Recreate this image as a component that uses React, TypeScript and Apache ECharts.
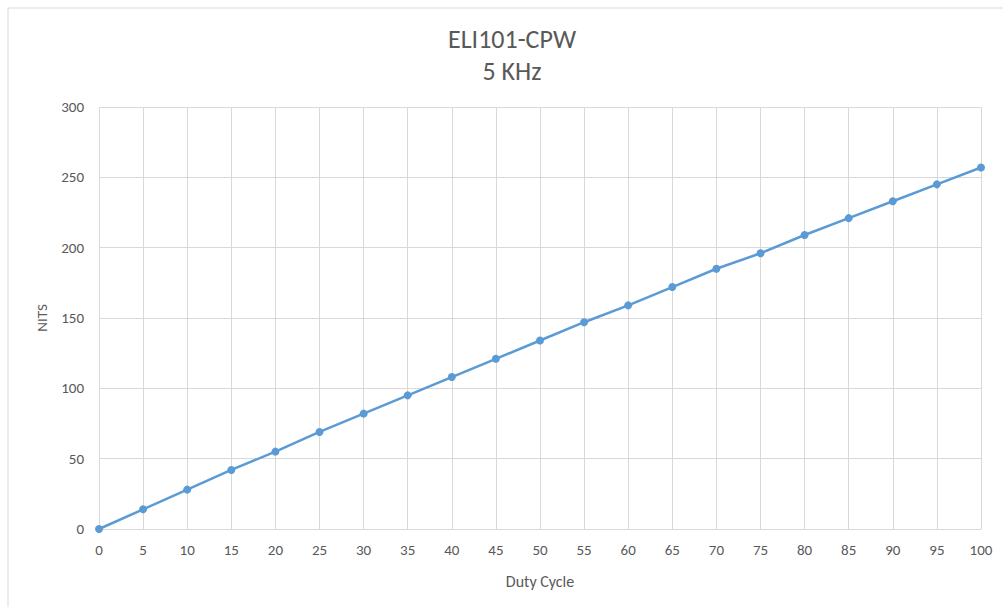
import React, { useEffect, useRef } from "react";
import * as echarts from "echarts";

const dutyCycle: string[] = [
  "0", "5", "10", "15", "20", "25", "30", "35", "40", "45", "50",
  "55", "60", "65", "70", "75", "80", "85", "90", "95", "100",
];
const nits: number[] = [
  0, 14, 28, 42, 55, 69, 82, 95, 108, 121, 134,
  147, 159, 172, 185, 196, 209, 221, 233, 245, 257,
];
const titleLines: string[] = ["ELI101-CPW", "5 KHz"];
const xAxisName = "Duty Cycle";
const yAxisName = "NITS";

const FONT = "Carlito, Lato, 'Open Sans', sans-serif";
const TEXT = "#595959";
const GRID = "#d9d9d9";
const LINE = "#5b9bd5";

export default function App() {
  const ref = useRef<HTMLDivElement>(null);
  useEffect(() => {
    if (!ref.current) return;
    const chart = echarts.init(ref.current, undefined, { renderer: "svg" });
    chart.setOption({
      animation: false,
      backgroundColor: "#ffffff",
      textStyle: { fontFamily: FONT },
      title: {
        text: titleLines.join("\n"),
        left: 507,
        textAlign: "center",
        top: 18,
        textStyle: {
          fontFamily: FONT,
          fontSize: 26,
          fontWeight: "normal",
          color: TEXT,
          lineHeight: 32,
        },
      },
      graphic: [
        {
          type: "rect",
          shape: { x: 8, y: 8, width: 1200, height: 800 },
          style: { fill: "none", stroke: GRID, lineWidth: 1 },
          silent: true,
          z: -1,
        },
      ],
      grid: { left: 99, right: 22, top: 107, bottom: 78, containLabel: false },
      xAxis: {
        type: "category",
        data: dutyCycle,
        boundaryGap: false,
        name: xAxisName,
        nameLocation: "middle",
        nameGap: 44,
        nameTextStyle: { color: TEXT, fontSize: 16, fontFamily: FONT },
        axisLine: { show: true, lineStyle: { color: GRID, width: 1 } },
        axisTick: { show: false },
        axisLabel: { color: TEXT, fontSize: 15, margin: 13, interval: 0, fontFamily: FONT },
        splitLine: { show: true, interval: 0, lineStyle: { color: GRID, width: 1 } },
      },
      yAxis: {
        type: "value",
        min: 0,
        max: 300,
        interval: 50,
        name: yAxisName,
        nameLocation: "middle",
        nameGap: 50,
        nameRotate: 90,
        nameTextStyle: { color: TEXT, fontSize: 15, fontFamily: FONT },
        axisLine: { show: false },
        axisTick: { show: false },
        axisLabel: { color: TEXT, fontSize: 15, margin: 15, fontFamily: FONT },
        splitLine: { show: true, lineStyle: { color: GRID, width: 1 } },
      },
      series: [
        {
          type: "line",
          data: nits,
          symbol: "circle",
          symbolSize: 8,
          lineStyle: { color: LINE, width: 2.5 },
          itemStyle: { color: LINE },
          z: 3,
        },
      ],
    });
    return () => chart.dispose();
  }, []);
  return (
    <div
      ref={ref}
      style={{ position: "fixed", left: 0, top: 0, width: 1003, height: 607 }}
    />
  );
}
